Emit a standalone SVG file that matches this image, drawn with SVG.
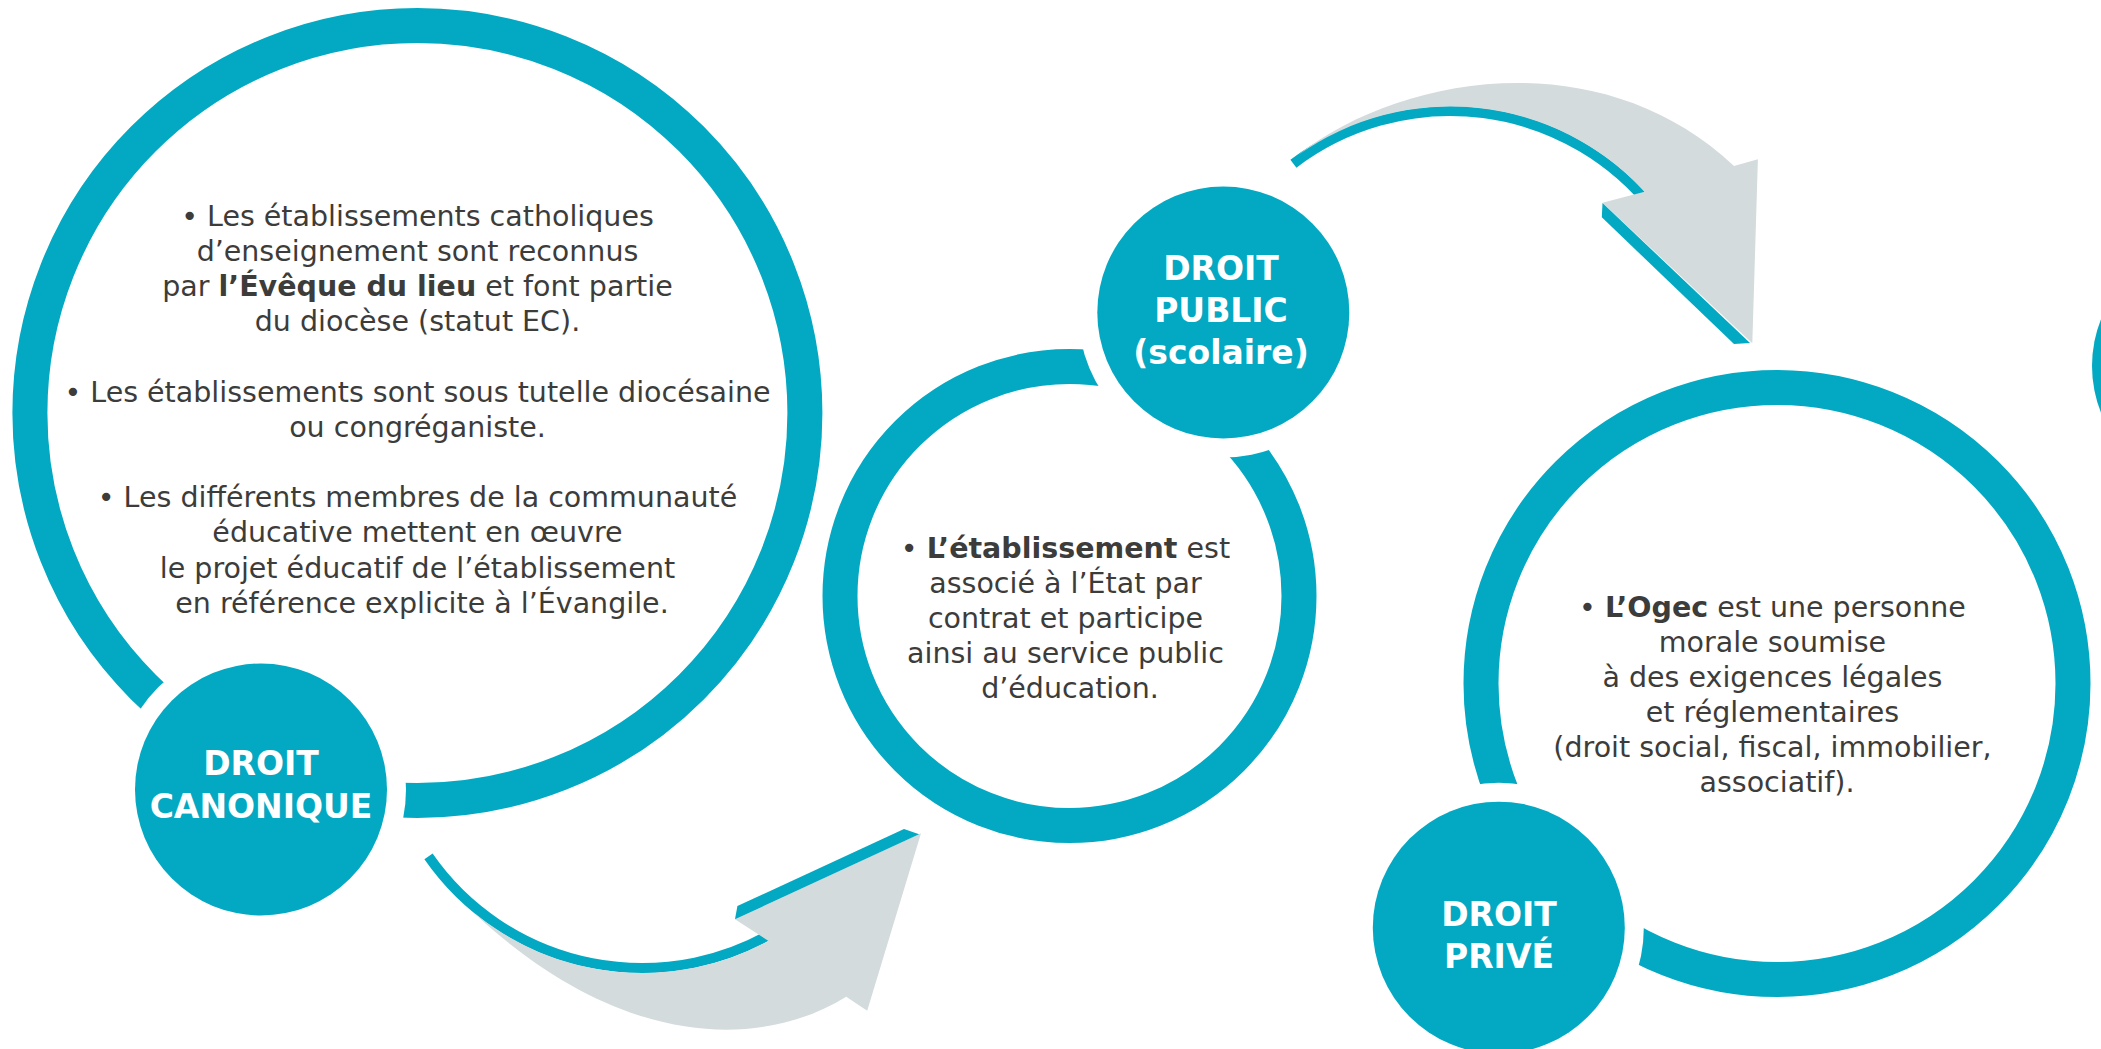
<svg xmlns="http://www.w3.org/2000/svg" width="2101" height="1049" viewBox="0 0 2101 1049">
<style>
.ring{fill:none;stroke:#03a9c2;stroke-width:35}
.lab{fill:#03a9c2}
.body{font-family:"DejaVu Sans",sans-serif;font-size:28.5px;fill:#3c3c3b;text-anchor:middle}
.b{font-weight:bold}
.lt{font-family:"DejaVu Sans",sans-serif;font-weight:bold;font-size:33px;fill:#ffffff;text-anchor:middle}
.gray{fill:#d3dbdd}
.tealf{fill:#03a9c2}
.teals{fill:none;stroke:#03a9c2;stroke-width:10}
</style>
<defs>
<mask id="mA" maskUnits="userSpaceOnUse" x="0" y="0" width="2101" height="1049"><rect width="2101" height="1049" fill="#fff"/><circle cx="261" cy="789.5" r="145" fill="#000"/></mask>
<mask id="mB" maskUnits="userSpaceOnUse" x="0" y="0" width="2101" height="1049"><rect width="2101" height="1049" fill="#fff"/><circle cx="1223.3" cy="312.5" r="145" fill="#000"/></mask>
<mask id="mC" maskUnits="userSpaceOnUse" x="0" y="0" width="2101" height="1049"><rect width="2101" height="1049" fill="#fff"/><circle cx="1498.8" cy="927.7" r="145" fill="#000"/></mask>
</defs>
<rect width="2101" height="1049" fill="#ffffff"/>

<g id="connectors">
  <g id="arrow-canonique-public">
    <path class="teals" d="M 428.5 856.4 A 260 260 0 0 0 783.6 926.1"/>
    <path class="gray" d="M 471.7 911 A 265 265 0 0 0 768.5 940.9 L 735 919.3 L 921 833.3 L 867.2 1010.7 L 846.2 996.7 C 760 1050 620 1050 471.7 911 Z"/>
    <path class="tealf" d="M 737.4 906 L 904 829 L 919.1 834.3 L 735 919.3 Z"/>
  </g>
  <g id="arrow-public-prive">
    <path class="teals" d="M 1293.4 163.7 A 259 259 0 0 1 1654.1 210.5"/>
    <path class="gray" d="M 1298 155 C 1400 75 1600 40 1734 166 L 1757.9 159.3 L 1752.3 343.3 L 1602.5 202.7 L 1644.6 191.7 A 264 264 0 0 0 1298 155 Z"/>
    <path class="tealf" d="M 1602.5 203 L 1750 343 L 1734 344 L 1601.8 217.3 Z"/>
  </g>
</g>

<g id="node-canonique">
  <circle class="ring" cx="417.4" cy="413" r="387.5" mask="url(#mA)"/>
  <text class="body">
    <tspan x="422" y="225.5">• Les établissements catholiques</tspan>
    <tspan x="422" y="260.7">d’enseignement sont reconnus</tspan>
    <tspan x="422" y="295.9">par <tspan class="b">l’Évêque du lieu</tspan> et font partie</tspan>
    <tspan x="422" y="331.1">du diocèse (statut EC).</tspan>
    <tspan x="422" y="401.5">• Les établissements sont sous tutelle diocésaine</tspan>
    <tspan x="422" y="436.7">ou congréganiste.</tspan>
    <tspan x="422" y="507.1">• Les différents membres de la communauté</tspan>
    <tspan x="422" y="542.3">éducative mettent en œuvre</tspan>
    <tspan x="422" y="577.5">le projet éducatif de l’établissement</tspan>
    <tspan x="422" y="612.7">en référence explicite à l’Évangile.</tspan>
  </text>
  <circle class="lab" cx="261" cy="789.5" r="126"/>
  <text class="lt"><tspan x="261" y="775">DROIT</tspan><tspan x="261" y="818">CANONIQUE</tspan></text>
</g>

<g id="node-public">
  <circle class="ring" cx="1069.5" cy="596" r="229.5" mask="url(#mB)"/>
  <text class="body">
    <tspan x="1070" y="558">• <tspan class="b">L’établissement</tspan> est</tspan>
    <tspan x="1070" y="593">associé à l’État par</tspan>
    <tspan x="1070" y="628">contrat et participe</tspan>
    <tspan x="1070" y="663">ainsi au service public</tspan>
    <tspan x="1070" y="698">d’éducation.</tspan>
  </text>
  <circle class="lab" cx="1223.3" cy="312.5" r="126"/>
  <text class="lt"><tspan x="1221" y="280">DROIT</tspan><tspan x="1221" y="322">PUBLIC</tspan><tspan x="1221" y="364">(scolaire)</tspan></text>
</g>

<g id="node-prive">
  <circle class="ring" cx="1777" cy="683.5" r="296" mask="url(#mC)"/>
  <text class="body">
    <tspan x="1777" y="616.7">• <tspan class="b">L’Ogec</tspan> est une personne</tspan>
    <tspan x="1777" y="651.7">morale soumise</tspan>
    <tspan x="1777" y="686.7">à des exigences légales</tspan>
    <tspan x="1777" y="721.7">et réglementaires</tspan>
    <tspan x="1777" y="756.7">(droit social, fiscal, immobilier,</tspan>
    <tspan x="1777" y="791.7">associatif).</tspan>
  </text>
  <circle class="lab" cx="1498.8" cy="927.7" r="126"/>
  <text class="lt"><tspan x="1499" y="926">DROIT</tspan><tspan x="1499" y="968">PRIVÉ</tspan></text>
</g>

<g id="node-next">
  <circle class="lab" cx="2218" cy="366" r="126"/>
</g>
</svg>
